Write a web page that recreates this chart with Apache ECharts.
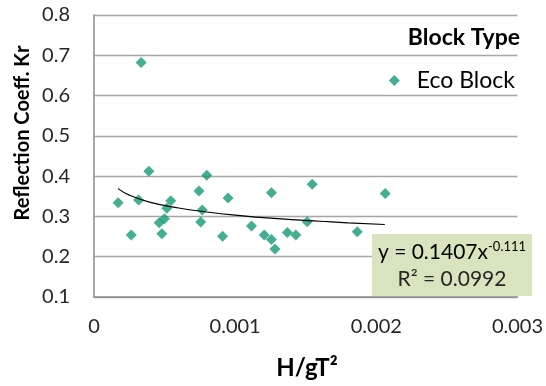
<!DOCTYPE html>
<html><head><meta charset="utf-8">
<script src="https://cdn.jsdelivr.net/npm/echarts@6/dist/echarts.min.js"></script>
<style>html,body{margin:0;padding:0;background:#fff}#c{width:546px;height:386px}</style>
</head><body><div id="c"></div>
<script>
const seriesName = 'Eco Block';
const legendTitle = 'Block Type';
const xTitle = 'H/gT²';
const yTitle = 'Reflection Coeff. Kr';
const xTicks = [0, 0.001, 0.002, 0.003];
const yTicks = [0.1, 0.2, 0.3, 0.4, 0.5, 0.6, 0.7, 0.8];
const ecoX = [0.000171, 0.000264, 0.000316, 0.000334, 0.000389, 0.000462, 0.000481, 0.000499, 0.000516, 0.000544,
  0.000744, 0.000756, 0.000767, 0.000799, 0.000911, 0.000950, 0.001116, 0.001206, 0.001257, 0.001257,
  0.001282, 0.001370, 0.001430, 0.001511, 0.001546, 0.001865, 0.002063];
const ecoY = [0.334, 0.254, 0.341, 0.682, 0.412, 0.284, 0.257, 0.294, 0.320, 0.339,
  0.363, 0.286, 0.316, 0.402, 0.251, 0.346, 0.276, 0.254, 0.359, 0.243,
  0.219, 0.260, 0.254, 0.287, 0.380, 0.262, 0.357];
const trendX = [0.00017, 0.00025, 0.0004, 0.0006, 0.0008, 0.001, 0.0012, 0.0014, 0.0016, 0.0018, 0.00206];
const trendY = [0.369, 0.353, 0.335, 0.321, 0.311, 0.303, 0.297, 0.292, 0.288, 0.284, 0.280];
const eqLine1 = 'y = 0.1407x';
const eqExp = '-0.111';
const eqLine2 = 'R² = 0.0992';

const FONT = 'Lato';
const chart = echarts.init(document.getElementById('c'), null, {renderer: 'canvas'});
chart.setOption({
  animation: false,
  textStyle: {fontFamily: FONT},
  grid: {left: 94, top: 15, right: 26, bottom: 89, containLabel: false},
  xAxis: {
    type: 'value', min: xTicks[0], max: xTicks[xTicks.length - 1], interval: 0.001,
    axisLine: {show: true, lineStyle: {color: '#8c8c8c', width: 1.5}},
    axisTick: {show: false}, splitLine: {show: false},
    axisLabel: {color: '#262626', fontSize: 20, fontFamily: FONT, margin: 20,
      formatter: v => String(+v.toFixed(3))}
  },
  yAxis: {
    type: 'value', min: yTicks[0], max: yTicks[yTicks.length - 1], interval: 0.1,
    axisLine: {show: true, lineStyle: {color: '#8c8c8c', width: 1.5}},
    axisTick: {show: false},
    splitLine: {show: true, lineStyle: {color: '#a6a6a6', width: 1.3}},
    axisLabel: {color: '#262626', fontSize: 20, fontFamily: FONT, margin: 24,
      formatter: v => v.toFixed(1)}
  },
  legend: {
    show: true, right: 26, top: 64, itemWidth: 11, itemHeight: 11, itemGap: 0,
    data: [{name: seriesName, icon: 'diamond'}],
    textStyle: {fontSize: 23, color: '#000', fontFamily: FONT, padding: [0, 0, 0, 12]}
  },
  series: [
    {
      name: seriesName, type: 'scatter', symbol: 'diamond', symbolSize: 11,
      itemStyle: {color: '#159a78'},
      data: ecoX.map((x, i) => [x, ecoY[i]]), z: 3
    },
    {
      name: 'trend', type: 'line', smooth: true, symbol: 'none',
      lineStyle: {color: '#000', width: 1.2},
      data: trendX.map((x, i) => [x, trendY[i]]), z: 4
    }
  ],
  graphic: [
    {type: 'text', x: 520, y: 38, style: {text: legendTitle, fontSize: 23, fontWeight: 'bold', fontFamily: FONT, fill: '#000', align: 'right', verticalAlign: 'middle'}},
    {type: 'text', x: 23, y: 133, rotation: Math.PI / 2,
      style: {text: yTitle, fontSize: 20, fontWeight: 'bold', fontFamily: FONT, fill: '#000', align: 'center', verticalAlign: 'middle'}},
    {type: 'text', x: 307, y: 368, style: {text: xTitle, fontSize: 24, fontWeight: 'bold', fontFamily: FONT, fill: '#000', align: 'center', verticalAlign: 'middle'}},
    {type: 'rect', shape: {x: 372, y: 234, width: 160, height: 62}, style: {fill: '#d7e4bd'}, z: 10},
    {type: 'text', x: 452, y: 252, z: 11, style: {
      text: '{a|' + eqLine1 + '}{b|' + eqExp + '}',
      rich: {a: {fontSize: 21, fontFamily: FONT, color: '#262626'},
             b: {fontSize: 13, fontFamily: FONT, color: '#262626', verticalAlign: 'top', padding: [0, 0, 10, 0]}},
      align: 'center', verticalAlign: 'middle'}},
    {type: 'text', x: 452, y: 279, z: 11, style: {text: eqLine2, fontSize: 21, fontFamily: FONT, fill: '#262626', align: 'center', verticalAlign: 'middle'}}
  ]
});
</script></body></html>
